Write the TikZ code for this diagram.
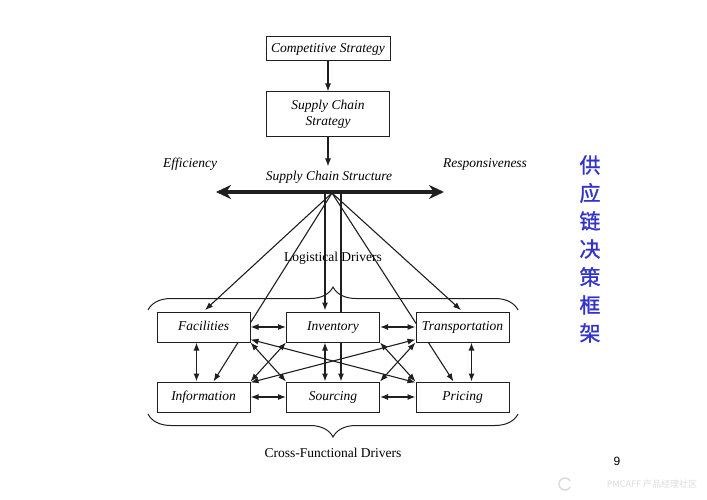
\documentclass[tikz,border=0pt]{standalone}
\usepackage{fontspec}
\setmainfont{Liberation Serif}
\newfontfamily\sansfont{Liberation Sans}
\newfontfamily\cjk{Noto Sans CJK SC}
\newfontfamily\cjktitre[FakeBold=1.2]{Noto Sans CJK SC}
\usetikzlibrary{arrows.meta,decorations.pathreplacing,backgrounds}
\definecolor{trait}{rgb}{0.12,0.12,0.12}
\definecolor{titre}{rgb}{0.20,0.20,0.80}
\definecolor{marque}{rgb}{0.86,0.86,0.86}
\tikzset{boite/.style={draw=trait, fill=white, line width=1pt, minimum width=93pt,
                       minimum height=30pt, inner sep=0pt, text height=9.5pt, text depth=3pt,
                       font=\fontsize{13.5}{16}\selectfont\itshape},
         fleche/.style={draw=trait, line width=1.1pt, -{Latex[length=8pt,width=6pt]}},
         deuxfleches/.style={draw=trait, line width=1.1pt,
                       {Latex[length=8pt,width=6pt]}-{Latex[length=8pt,width=6pt]}},
         accolade/.style={draw=trait, line width=1pt, decorate,
                       decoration={brace, amplitude=23pt}},
         texte/.style={font=\fontsize{13.5}{16}\selectfont}}

\begin{document}
\begin{tikzpicture}[x=1pt, y=-1pt]
\useasboundingbox (0,0) rectangle (707,500);
% Strategy boxes:
\node[boite, minimum width=124pt, minimum height=24pt] (comp) at (328,49) {Competitive Strategy};
\node[boite, minimum width=123pt, minimum height=45pt, align=center, text height=, text depth=]
                                          (strat) at (328,114.5) {Supply Chain\\Strategy};
\node[texte, font=\fontsize{13.5}{16}\selectfont\itshape] (effi) at (190,164) {Efficiency};
\node[texte, font=\fontsize{13.5}{16}\selectfont\itshape] (resp) at (485,164) {Responsiveness};
\node[texte, font=\fontsize{13.5}{16}\selectfont\itshape] (struct) at (329,177) {Supply Chain Structure};
\draw[fleche] (comp) -- (strat);
\draw[fleche] (strat.south) -- ++(0,29); % Down to the structure
% Thick double arrow:
\coordinate (gauche) at (216,192);
\coordinate (droite) at (444,192);
\draw[draw=trait, line width=4pt, {Stealth[length=15pt,width=14pt]}-{Stealth[length=15pt,width=14pt]}]
                                                            (gauche) -- (droite);
% Driver boxes:
\node[boite] (fac) at (203.5,327) {Facilities};
\node[boite] (inv) at (333,327) {Inventory};
\node[boite] (tra) at (462.5,327) {Transportation};
\node[boite] (inf) at (203.5,397) {Information};
\node[boite] (sou) at (333,397) {Sourcing};
\node[boite] (pri) at (462.5,397) {Pricing};
% Fan of lines (under the boxes):
\coordinate (fan) at (332,193);
\coordinate (barre1) at (325,193);
\coordinate (barre2) at (341,193);
\begin{pgfonlayer}{background}
\draw[fleche, shorten >=2pt] (fan) -- (fac.north);
\draw[fleche] (fan) -- ([xshift=10pt]inf.north); % Behind Facilities
\draw[fleche, shorten >=1pt] (barre1) -- (barre1 |- inv.north);
\draw[fleche] (barre2) -- (barre2 |- sou.north); % Behind Inventory
\draw[fleche] (fan) -- ([xshift=-9pt]pri.north); % Behind Transportation
\draw[fleche, shorten >=2pt] (fan) -- (tra.north);
\end{pgfonlayer}
% Between the drivers:
\draw[deuxfleches] (fac) -- (inv);
\draw[deuxfleches] (inv) -- (tra);
\draw[deuxfleches] (inf) -- (sou);
\draw[deuxfleches] (sou) -- (pri);
\draw[deuxfleches] ([xshift=-7pt]fac.south) -- ([xshift=-7pt]inf.north);
\draw[deuxfleches] ([xshift=-8pt]inv.south) -- ([xshift=-8pt]sou.north);
\draw[deuxfleches] ([xshift=9pt]tra.south) -- ([xshift=9pt]pri.north);
\draw[deuxfleches] (fac.south east) -- (sou.north west);
\draw[deuxfleches] (inv.south west) -- (inf.north east);
\draw[deuxfleches] (inv.south east) -- (pri.north west);
\draw[deuxfleches] (tra.south west) -- (sou.north east);
\draw[deuxfleches] ([yshift=3pt]fac.south east) -- ([yshift=-1pt]pri.north west);
\draw[deuxfleches] ([yshift=3pt]tra.south west) -- ([yshift=-1pt]inf.north east);
% Braces:
\draw[accolade] (148,310) -- (518,310);
\node[texte] (logi) at (333,258) {Logistical Drivers};
\draw[accolade] (518,414) -- (148,414);
\node[texte] (cross) at (333,453) {Cross-Functional Drivers};
% Chinese title:
\node[font=\cjktitre\fontsize{21}{28}\selectfont, text=titre, align=center] (titre) at (590,249)
                                                            {供\\应\\链\\决\\策\\框\\架};
% Page number and watermark:
\node[font=\sansfont\fontsize{12}{14}\selectfont] (page) at (617,461) {9};
\draw[marque, line width=1.5pt] (565,484) ++(30:6) arc (30:330:6);
\node[font=\cjk\fontsize{9}{11}\selectfont, text=marque] (logo) at (652,484) {PMCAFF 产品经理社区};
\end{tikzpicture}
\end{document}
